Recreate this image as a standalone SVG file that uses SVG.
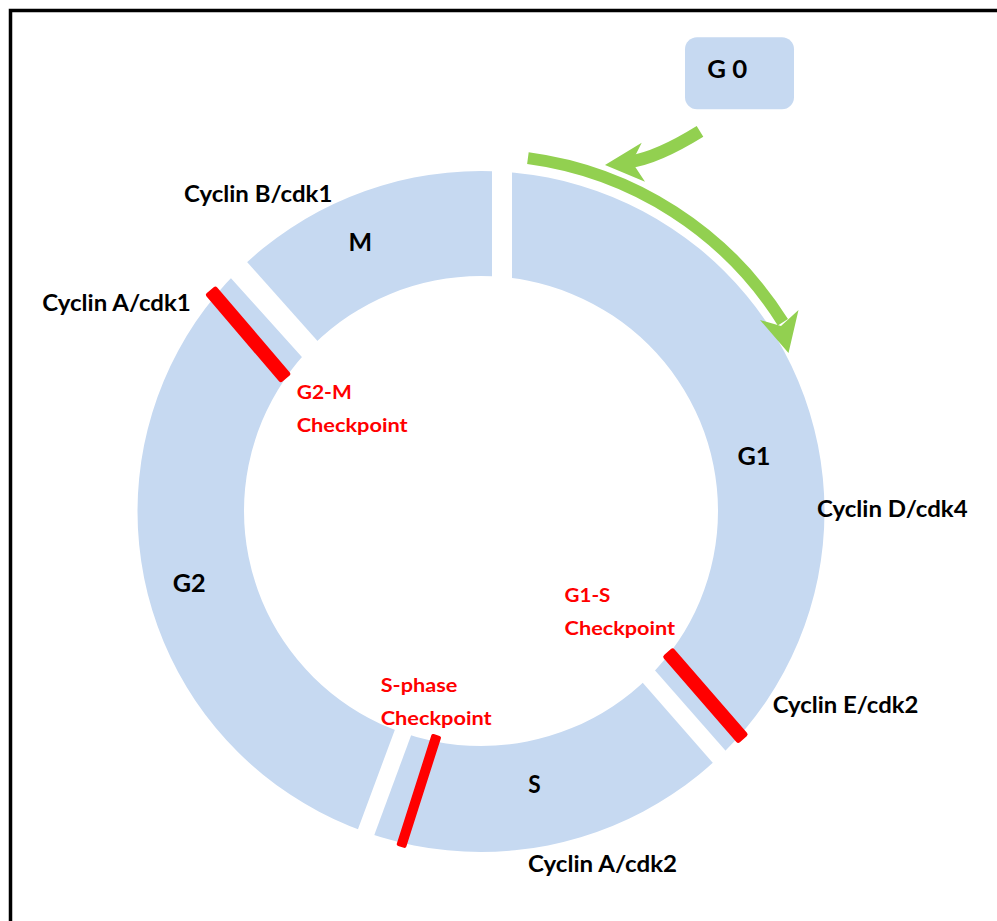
<svg xmlns="http://www.w3.org/2000/svg" width="997" height="921" viewBox="0 0 997 921">
  <style>
    .ring { fill: #C6D9F1; fill-rule: evenodd; }
    .txt { font-family: Lato, "Liberation Sans", sans-serif; font-weight: 700; fill: #000000; }
    .cyc { font-size: 23px; }
    .phase { font-size: 25px; }
    .chk { font-size: 19px; fill: #FF0000; }
    .bar { fill: #FF0000; }
    .flow { fill: none; stroke: #92D050; }
    .head { fill: #92D050; }
  </style>
  <defs>
    <!-- full annulus of the cycle; each phase is a clipped copy -->
    <path id="annulus" class="ring" d="M137.5,511.5 a343.5,340.5 0 1,0 687,0 a343.5,340.5 0 1,0 -687,0 Z M244,511 a237,235 0 1,0 474,0 a237,235 0 1,0 -474,0 Z"/>
    <clipPath id="clipM">
      <polygon points="336.7,362.4 207.3,217.5 207.3,100 492,100 492,300"/>
    </clipPath>
    <clipPath id="clipG1">
      <polygon points="512,300 512,100 900,100 900,780 751.4,780.1 629.6,641.6"/>
    </clipPath>
    <clipPath id="clipS">
      <polygon points="616.9,653.2 738.1,791.8 738,900 361.1,900 361.1,870.8 415.2,724.2"/>
    </clipPath>
    <clipPath id="clipG2">
      <polygon points="321.7,379.1 190.1,232.8 100,232.8 100,900 344.4,900 344.4,865.8 398.5,719.9"/>
    </clipPath>
  </defs>

  <!-- outer frame -->
  <rect x="10.5" y="10.5" width="1000" height="1000" fill="none" stroke="#000000" stroke-width="3.5"/>

  <!-- cycle phases -->
  <g id="phase-M">
    <use href="#annulus" clip-path="url(#clipM)"/>
    <text class="txt phase" x="348.4" y="251.4" textLength="23.6" lengthAdjust="spacingAndGlyphs">M</text>
  </g>
  <g id="phase-G1">
    <use href="#annulus" clip-path="url(#clipG1)"/>
    <text class="txt phase" x="737.5" y="465.2" textLength="33" lengthAdjust="spacingAndGlyphs">G1</text>
  </g>
  <g id="phase-S">
    <use href="#annulus" clip-path="url(#clipS)"/>
    <text class="txt phase" x="528.3" y="793.3" textLength="12.4" lengthAdjust="spacingAndGlyphs">S</text>
  </g>
  <g id="phase-G2">
    <use href="#annulus" clip-path="url(#clipG2)"/>
    <text class="txt phase" x="172.7" y="591.7" textLength="33" lengthAdjust="spacingAndGlyphs">G2</text>
  </g>

  <!-- quiescent state -->
  <g id="phase-G0">
    <rect x="685" y="37.3" width="109" height="72" rx="12" fill="#C6D9F1"/>
    <text class="txt" font-size="24.5" x="707.3" y="78.3" textLength="40" lengthAdjust="spacingAndGlyphs">G 0</text>
  </g>

  <!-- checkpoints -->
  <g id="checkpoint-G2-M">
    <rect class="bar" x="-58.25" y="-7" width="116.5" height="14" rx="2.5" transform="translate(248.1,334.35) rotate(49.5)"/>
    <text class="txt chk" x="296.7" y="399.3" textLength="55" lengthAdjust="spacingAndGlyphs">G2-M</text>
    <text class="txt chk" x="296.7" y="432.3" textLength="111" lengthAdjust="spacingAndGlyphs">Checkpoint</text>
  </g>
  <g id="checkpoint-G1-S">
    <rect class="bar" x="-57.75" y="-7" width="115.5" height="14" rx="2.5" transform="translate(705.4,695.6) rotate(49)"/>
    <text class="txt chk" x="564.6" y="602" textLength="45.8" lengthAdjust="spacingAndGlyphs">G1-S</text>
    <text class="txt chk" x="564.6" y="635" textLength="110.6" lengthAdjust="spacingAndGlyphs">Checkpoint</text>
  </g>
  <g id="checkpoint-S">
    <rect class="bar" x="-58.7" y="-5" width="117.4" height="10" rx="2" transform="translate(418.85,790.9) rotate(107.7)"/>
    <text class="txt chk" x="380.7" y="691.7" textLength="76.6" lengthAdjust="spacingAndGlyphs">S-phase</text>
    <text class="txt chk" x="380.7" y="725" textLength="111" lengthAdjust="spacingAndGlyphs">Checkpoint</text>
  </g>

  <!-- cyclin / cdk complexes -->
  <g id="cyclin-B-cdk1">
    <text class="txt cyc" x="184" y="201.7" textLength="148.3" lengthAdjust="spacingAndGlyphs">Cyclin B/cdk1</text>
  </g>
  <g id="cyclin-A-cdk1">
    <text class="txt cyc" x="42.3" y="311" textLength="148.4" lengthAdjust="spacingAndGlyphs">Cyclin A/cdk1</text>
  </g>
  <g id="cyclin-D-cdk4">
    <text class="txt cyc" x="817" y="517.3" textLength="150.6" lengthAdjust="spacingAndGlyphs">Cyclin D/cdk4</text>
  </g>
  <g id="cyclin-E-cdk2">
    <text class="txt cyc" x="772.7" y="713.3" textLength="145.6" lengthAdjust="spacingAndGlyphs">Cyclin E/cdk2</text>
  </g>
  <g id="cyclin-A-cdk2">
    <text class="txt cyc" x="528" y="872" textLength="149" lengthAdjust="spacingAndGlyphs">Cyclin A/cdk2</text>
  </g>

  <!-- connectors: entry from G0 and progression around the cycle -->
  <g id="connectors">
    <path class="flow" stroke-width="12.6" d="M700,131.3 Q656.6,158.1 630,161.5"/>
    <polygon class="head" points="641.7,142.7 605,165 645,181.7 632,162"/>
    <path class="flow" stroke-width="12" d="M527.9,158.1 A356,356 0 0,1 782.9,322.3"/>
    <polygon class="head" points="760,320 788.5,353 798.5,310 781,326"/>
  </g>
</svg>
